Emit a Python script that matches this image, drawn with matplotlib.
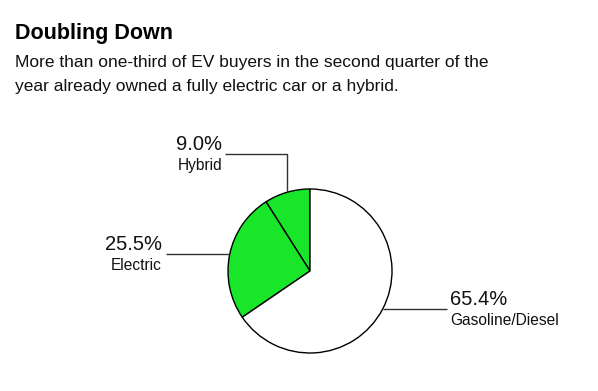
import numpy as np
import matplotlib
matplotlib.use("Agg")
import matplotlib.pyplot as plt

plt.rcParams['font.family'] = ['Liberation Sans', 'DejaVu Sans']

# data (counter-clockwise from 12 o'clock)
categories = ["Hybrid", "Electric", "Gasoline/Diesel"]
shares = [9.0, 25.5, 65.4]
colors = ["#19e629", "#19e629", "#ffffff"]

title = "Doubling Down"
subtitle = ["More than one-third of EV buyers in the second quarter of the",
            "year already owned a fully electric car or a hybrid."]

W, H = 598, 391
fig = plt.figure(figsize=(W / 100, H / 100), dpi=100)
ax = fig.add_axes([0, 0, 1, 1])

# pie geometry in pixel units (y measured up from bottom)
cx, cy, r = 310, H - 271, 82
ax.pie(shares, colors=colors, startangle=90, counterclock=True,
       center=(cx, cy), radius=r,
       wedgeprops=dict(edgecolor='black', linewidth=1.0))
ax.set_xlim(0, W)
ax.set_ylim(0, H)
ax.set_aspect('equal')
ax.axis('off')

# mid angle of each wedge
frac = np.array(shares) / sum(shares)
ends = 90 + np.cumsum(frac) * 360
mids = ends - frac * 360 / 2

line_kw = dict(color='#333333', lw=1.0, solid_capstyle='butt')
pct_kw = dict(fontsize=14.5, color='#111111', va='baseline')
lab_kw = dict(fontsize=11.2, color='#111111', va='baseline')

for i, (cat, val) in enumerate(zip(categories, shares)):
    a = np.deg2rad(mids[i])
    x0, y0 = cx + r * np.cos(a), cy + r * np.sin(a)
    if cat == "Hybrid":
        ly = H - 154
        xe = 225
        ax.plot([x0, x0, xe], [y0, ly, ly], **line_kw)
        tx, ha = xe - 3, 'right'
    elif cat == "Electric":
        ly = y0
        xe = 166
        ax.plot([x0, xe], [ly, ly], **line_kw)
        tx, ha = xe - 4, 'right'
    else:
        ly = y0
        xe = 447
        ax.plot([x0, xe], [ly, ly], **line_kw)
        tx, ha = xe + 3, 'left'
    ax.text(tx, ly + 4.5, f"{val:.1f}%", ha=ha, **pct_kw)
    ax.text(tx, ly - 16, cat, ha=ha, **lab_kw)

fig.text(15 / W, 1 - 39 / H, title, fontsize=15.5, fontweight='bold',
         color='black', va='baseline')
for k, line in enumerate(subtitle):
    fig.text(15 / W, 1 - (67 + 24 * k) / H, line, fontsize=12.5,
             color='#111111', va='baseline')

fig.savefig("out.png", dpi=100)
